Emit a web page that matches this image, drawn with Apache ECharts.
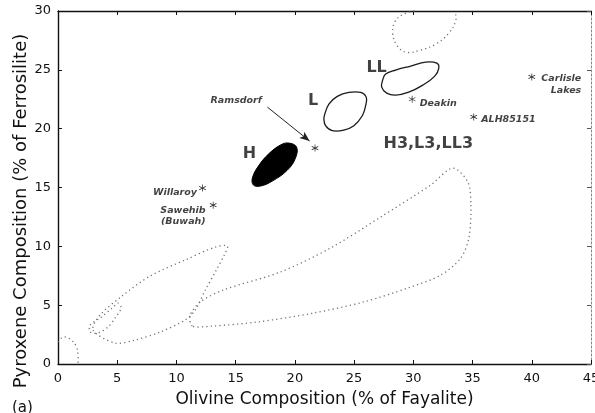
<!DOCTYPE html>
<html>
<head>
<meta charset="utf-8">
<script src="https://cdn.jsdelivr.net/npm/echarts@6/dist/echarts.min.js"></script>
<style>
  html, body { margin: 0; padding: 0; background: #fff; }
  #chart { width: 595px; height: 413px; }
</style>
</head>
<body>
<div id="chart"></div>
<script>
// meteorites plotted as asterisks
const meteoriteNames = ['Ramsdorf', 'Willaroy', 'Sawehib\n(Buwah)', 'Deakin', 'ALH85151', 'Carlisle\nLakes'];
const olivineFa = [21.7, 12.2, 13.1, 29.9, 35.1, 40.0];
const pyroxeneFs = [18.35, 14.95, 13.5, 22.5, 21.0, 24.4];

// group labels
const groupLabels = ['H', 'L', 'LL', 'H3,L3,LL3'];
const groupLabelFa = [16.16, 21.53, 26.9, 31.26];
const groupLabelFs = [17.84, 22.39, 25.19, 18.69];

// Ramsdorf annotation
const ramsdorfLabelAt = [17.26, 22.43];
const ramsdorfArrow = [[17.68, 21.83], [21.24, 18.95]];

// region outlines [Fa, Fs]
const regionH = [[16.41, 15.8], [16.92, 16.82], [17.77, 17.84], [18.78, 18.61], [19.46, 18.78], [20.14, 18.44],
  [20.05, 17.5], [19.37, 16.48], [18.1, 15.55], [17.09, 15.12], [16.5, 15.21]];
const regionL = [[22.5, 21.15], [22.87, 22.09], [23.58, 22.74], [24.56, 23.08], [25.55, 23.08], [26.03, 22.66],
  [25.97, 21.95], [25.69, 21.1], [24.98, 20.25], [24.13, 19.88], [23.15, 19.83], [22.59, 20.25], [22.45, 20.82]];
const regionLL = [[27.41, 24.13], [27.66, 24.64], [28.51, 24.98], [29.78, 25.32], [31.05, 25.66], [31.98, 25.57],
  [32.15, 25.15], [31.81, 24.47], [30.8, 23.7], [29.61, 23.1], [28.51, 22.85], [27.75, 23.02], [27.33, 23.53]];
const regionTop = [[30.1, 30], [29.1, 29.7], [28.43, 29.06], [28.26, 28.12], [28.6, 27.1], [29.36, 26.5],
  [30.63, 26.68], [31.9, 27.19], [33.0, 28.12], [33.59, 29.23], [33.5, 30]];
const regionBig = [[11.34, 3.23], [11.17, 4.16], [12.01, 5.27], [13.96, 6.29], [18.78, 7.82], [23.01, 9.86],
  [27.24, 12.49], [31.47, 15.21], [33.33, 16.65], [34.6, 15.46], [34.86, 13.51], [34.69, 10.71], [34.01, 9.01],
  [32.32, 7.56], [29.53, 6.46], [25.8, 5.27], [21.57, 4.33], [16.84, 3.57], [13.11, 3.23]];
const regionMid = [[2.96, 2.89], [4.82, 1.78], [6.51, 2.04], [8.63, 2.72], [10.74, 3.74], [11.59, 4.59],
  [12.44, 6.29], [13.37, 7.99], [14.04, 9.26], [14.3, 10.03], [13.28, 9.94], [10.74, 8.84], [7.78, 7.48],
  [5.41, 5.78], [3.55, 4.16]];
const regionSmall = [[2.71, 3.31], [3.55, 3.91], [4.57, 4.76], [5.08, 5.18], [5.33, 4.76], [4.82, 3.91],
  [4.23, 3.14], [3.38, 2.63], [2.71, 2.72]];
const regionOrigin = [[0, 1.87], [0.42, 2.29], [1.02, 2.12], [1.52, 1.53], [1.69, 0.76], [1.69, 0]];

const FONT = 'DejaVu Sans';
const INK = '#111';

const dotted = { fill: null, stroke: '#6f6f6f', lineWidth: 1.3, lineDash: [1.2, 3.2] };
const solid = { fill: null, stroke: '#1a1a1a', lineWidth: 1.3 };
const filled = { fill: '#000', stroke: '#000', lineWidth: 1 };

function regionSeries(pts, style, closed, smooth) {
  return {
    type: 'custom',
    silent: true,
    data: pts,
    encode: { x: 0, y: 1 },
    renderItem: function (params, api) {
      if (params.dataIndex !== 0) return;
      const points = pts.map(p => api.coord(p));
      return {
        type: closed ? 'polygon' : 'polyline',
        shape: { points: points, smooth: smooth },
        style: style
      };
    }
  };
}

// per-meteorite label placement
const labelLayout = {
  'Ramsdorf': { show: false },
  'Willaroy': { position: 'left', distance: 2, offset: [0, 4] },
  'Sawehib\n(Buwah)': { position: 'left', distance: 4, offset: [0, 11], lineHeight: 11 },
  'Deakin': { position: 'right', distance: 4, offset: [0, 4] },
  'ALH85151': { position: 'right', distance: 4, offset: [0, 3] },
  'Carlisle\nLakes': { position: [53, -0.5], align: 'right', verticalAlign: 'top', lineHeight: 12 }
};

const asterisk = 'path://M4.5,0L5.5,0L5.5,10L4.5,10ZM0.42,2.93L0.92,2.07L9.58,7.07L9.08,7.93ZM0.92,7.93L0.42,7.07L9.08,2.07L9.58,2.93Z';

const chart = echarts.init(document.getElementById('chart'), null, { renderer: 'canvas' });

const axisCommon = {
  type: 'value',
  splitLine: { show: false },
  axisLine: { show: true, onZero: false, lineStyle: { color: INK, width: 1.4 } },
  axisTick: { show: true, inside: true, length: 4, lineStyle: { color: INK, width: 1 } }
};

const option = {
  backgroundColor: '#fff',
  animation: false,
  grid: { left: 58, right: 4, top: 11, bottom: 49, containLabel: false, outerBoundsMode: 'none' },
  xAxis: [
    Object.assign({}, axisCommon, {
      min: 0, max: 45, interval: 5, position: 'bottom',
      axisLabel: { fontSize: 13, color: INK, fontFamily: FONT, margin: 8 },
      name: 'Olivine Composition (% of Fayalite)',
      nameLocation: 'middle', nameGap: 27,
      nameTextStyle: { fontSize: 17, fontFamily: FONT, color: INK }
    }),
    Object.assign({}, axisCommon, {
      min: 0, max: 45, interval: 5, position: 'top',
      axisLabel: { show: false }
    })
  ],
  yAxis: [
    Object.assign({}, axisCommon, {
      min: 0, max: 30, interval: 5, position: 'left',
      axisLabel: { fontSize: 13, color: INK, fontFamily: FONT, margin: 7 }
    }),
    Object.assign({}, axisCommon, {
      min: 0, max: 30, interval: 5, position: 'right',
      axisLine: { show: true, onZero: false, lineStyle: { color: '#888', width: 1, type: [2, 2] } },
      axisTick: { show: true, inside: true, length: 4, lineStyle: { color: '#555' } },
      axisLabel: { show: false }
    })
  ],
  graphic: [
    {
      type: 'text', x: 21, y: 211, rotation: Math.PI / 2,
      style: {
        text: 'Pyroxene Composition (% of Ferrosilite)', font: '18px "DejaVu Sans"',
        fill: INK, align: 'center', verticalAlign: 'middle'
      }
    },
    {
      type: 'text', left: 12, top: 401,
      style: { text: '(a)', font: '15px "DejaVu Sans"', fill: INK }
    }
  ],
  series: [
    regionSeries(regionOrigin, dotted, false, 0.4),
    regionSeries(regionSmall, dotted, true, 0.3),
    regionSeries(regionMid, dotted, true, 0.3),
    regionSeries(regionBig, dotted, true, 0.3),
    regionSeries(regionTop, dotted, false, 0.4),
    regionSeries(regionH, filled, true, 0.4),
    regionSeries(regionL, solid, true, 0.4),
    regionSeries(regionLL, solid, true, 0.4),
    {
      type: 'scatter',
      silent: true,
      symbol: asterisk,
      symbolSize: 7,
      itemStyle: { color: '#000' },
      data: meteoriteNames.map((n, i) => ({
        name: n,
        value: [olivineFa[i], pyroxeneFs[i]],
        label: Object.assign({
          show: true,
          formatter: '{b}',
          fontFamily: FONT,
          fontStyle: 'italic',
          fontWeight: 'bold',
          fontSize: 9.5,
          color: INK
        }, labelLayout[n])
      })),
      markLine: {
        silent: true,
        symbol: ['none', 'arrow'],
        symbolSize: [6, 10],
        lineStyle: { color: '#222', width: 1, type: 'solid' },
        label: { show: false },
        emphasis: { disabled: true },
        data: [[{ coord: ramsdorfArrow[0] }, { coord: ramsdorfArrow[1] }]]
      }
    },
    {
      type: 'scatter',
      silent: true,
      symbolSize: 1,
      itemStyle: { color: 'transparent' },
      data: [{ name: 'Ramsdorf', value: ramsdorfLabelAt }],
      label: {
        show: true, formatter: '{b}', position: 'left', distance: 0,
        fontFamily: FONT, fontStyle: 'italic', fontWeight: 'bold', fontSize: 9.5, color: INK
      }
    },
    {
      type: 'scatter',
      silent: true,
      symbolSize: 1,
      itemStyle: { color: 'transparent' },
      data: groupLabels.map((g, i) => ({ name: g, value: [groupLabelFa[i], groupLabelFs[i]] })),
      label: {
        show: true, formatter: '{b}', position: 'inside',
        fontFamily: FONT, fontWeight: 'bold', fontSize: 16, color: INK
      }
    }
  ]
};

chart.setOption(option);
</script>
</body>
</html>
